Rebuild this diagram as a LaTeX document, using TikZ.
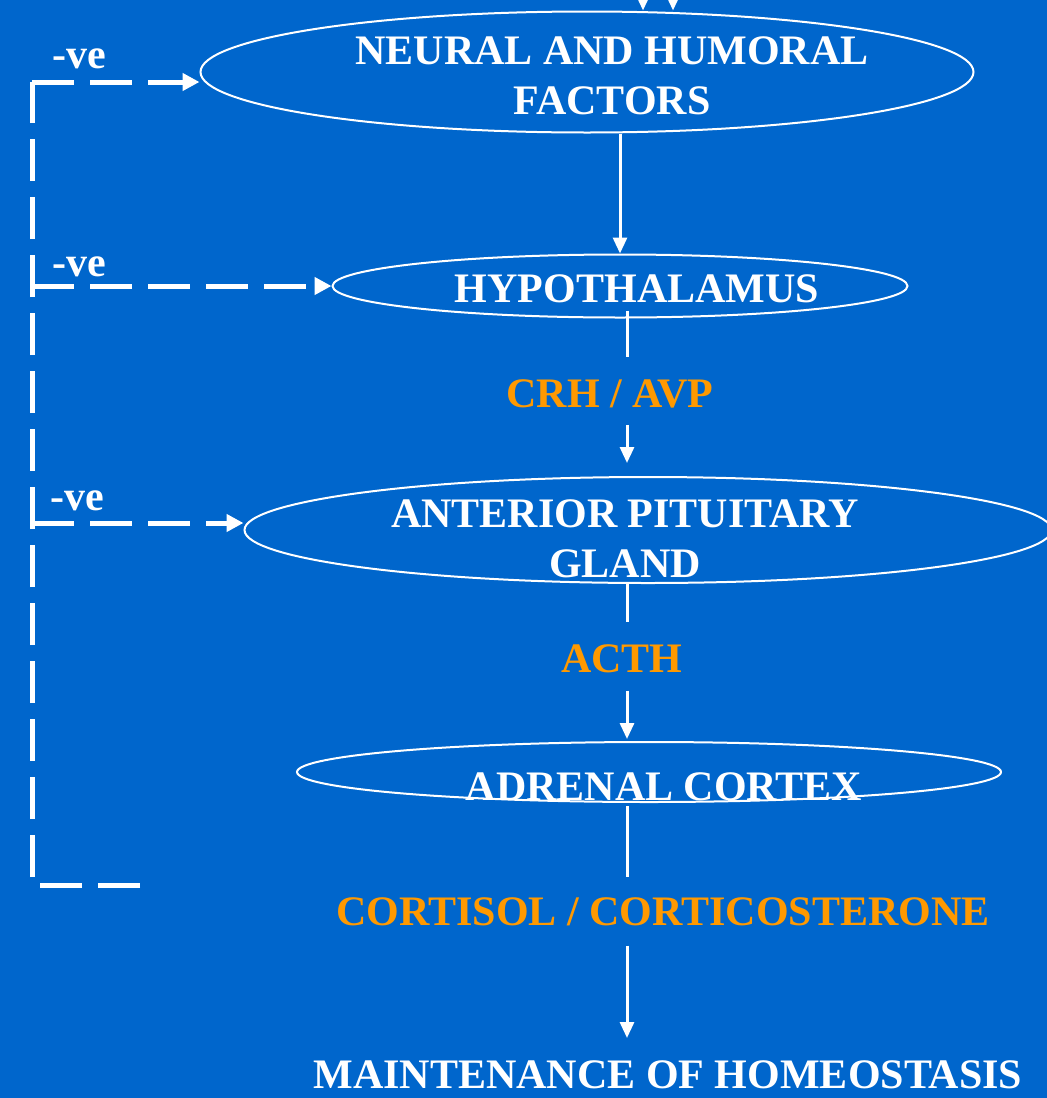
\documentclass[tikz,border=0pt]{standalone}
\usepackage{fontspec}
\setmainfont{Liberation Serif}
\definecolor{slideblue}{RGB}{0,102,204}
\definecolor{hormone}{RGB}{255,153,0}
\usetikzlibrary{arrows.meta, positioning, shapes.geometric}

\begin{document}
\begin{tikzpicture}[
  x=1pt, y=-1pt,
  organ/.style={ellipse, draw=white, line width=2pt, inner sep=0pt},
  caption/.style={font=\fontsize{42}{50}\selectfont\bfseries, text=white,
                  align=center, inner sep=0pt},
  hormonetxt/.style={caption, text=hormone},
  flow/.style={draw=white, line width=3pt},
  flowarrow/.style={flow, -{Triangle[length=16pt, width=14pt]}},
  feedback/.style={draw=white, line width=5pt, dash pattern=on 42pt off 16pt,
                   -{Triangle[length=17pt, width=17pt]}}
]
  \useasboundingbox (0,0) rectangle (1047,1098);
  \clip (0,0) rectangle (1047,1098);
  \fill[slideblue] (0,0) rectangle (1047,1098);

  % Organs
  \node[organ, minimum width=773pt, minimum height=121pt] (neural) at (587,72) {};
  \node[caption] (neuraltxt) at (612,76) {NEURAL AND HUMORAL\\FACTORS};

  \node[organ, minimum width=575pt, minimum height=63pt] (hypo) at (620,286) {};
  \node[caption, anchor=base] (hypotxt) at (637,302) {HYPOTHALAMUS};

  \node[organ, minimum width=807pt, minimum height=106pt] (pit) at (648,530) {};
  \node[caption] (pittxt) at (625,539) {ANTERIOR PITUITARY\\GLAND};

  \node[organ, minimum width=704pt, minimum height=60pt] (adrenal) at (649,772) {};
  \node[caption, anchor=base] (adrenaltxt) at (664,800) {ADRENAL CORTEX};

  % Hormones
  \node[hormonetxt, anchor=base] (crh) at (610,407) {CRH / AVP};
  \node[hormonetxt, anchor=base] (acth) at (622,672) {ACTH};
  \node[hormonetxt, anchor=base] (cortisol) at (663,925) {CORTISOL / CORTICOSTERONE};

  % Outcome
  \node[caption, anchor=base] (homeo) at (668,1088) {MAINTENANCE OF HOMEOSTASIS};

  % Axis of the cascade and inputs from above
  \coordinate (axis) at (627,0);
  \coordinate (inleft) at (643,-40);
  \coordinate (inright) at (673,-40);

  % Arrows
  \draw[flowarrow] (inleft) -- (inleft |- neural.north);
  \draw[flowarrow] (inright) -- (inright |- neural.north);
  \draw[flowarrow] (neural.south -| hypo.north) -- (hypo.north);
  \draw[flow, shorten <=-8pt, shorten >=22pt] (hypo.south -| axis) -- (crh.north -| axis);
  \draw[flowarrow, shorten <=17pt, shorten >=13pt] (crh.south -| axis) -- (pit.north -| axis);
  \draw[flow, shorten >=22pt] (pit.south -| axis) -- (acth.north -| axis);
  \draw[flowarrow, shorten <=18pt, shorten >=2pt] (acth.south -| axis) -- (adrenal.north -| axis);
  \draw[flow, shorten <=3pt, shorten >=20pt] (adrenal.south -| axis) -- (cortisol.north -| axis);
  \draw[flowarrow, shorten <=20pt, shorten >=22pt] (cortisol.south -| axis) -- (homeo.north -| axis);

  % Negative feedback
  \coordinate (fbend) at (140,885);
  \coordinate (fbcorner) at (32,885);
  \coordinate (fbtop) at (32,82);
  \coordinate (pitin) at ([yshift=7pt]pit.west);
  \draw[feedback, -] (fbend) -- (fbcorner) -- (fbtop);
  \draw[feedback] (fbtop) -- (fbtop -| neural.west);
  \draw[feedback] (fbcorner |- hypo.west) -- (hypo.west);
  \draw[feedback] (fbcorner |- pitin) -- (pitin);

  \node[caption, anchor=base] (neg1) at (79,68) {-ve};
  \node[caption, anchor=base] (neg2) at (79,276) {-ve};
  \node[caption, anchor=base] (neg3) at (77,510) {-ve};
\end{tikzpicture}
\end{document}
